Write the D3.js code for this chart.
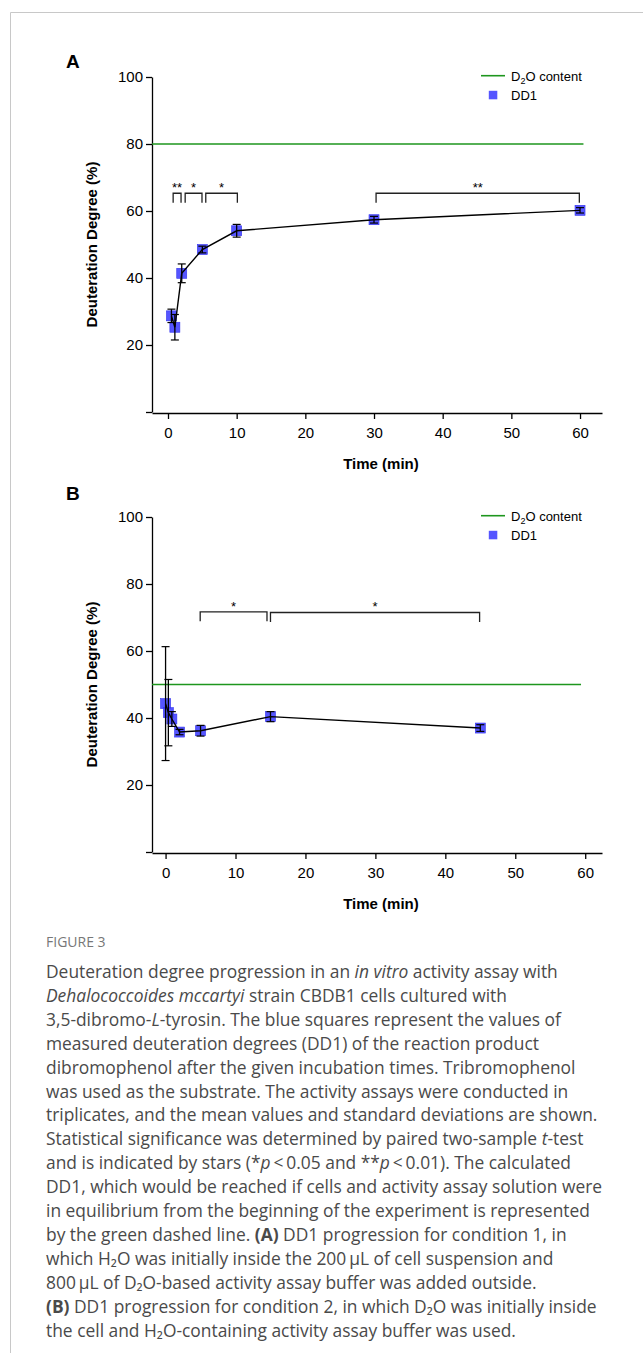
<!DOCTYPE html>
<html>
<head>
<meta charset="utf-8">
<script src="https://cdn.jsdelivr.net/npm/d3@7"></script>
<style>
  body { margin: 0; background: #fff; }
  .chart-text { font-family: "Liberation Sans", Arial, sans-serif; }
  .caption { font-family: "Open Sans", "Noto Sans", sans-serif; }
</style>
</head>
<body>
<div id="chart"></div>
<script>
// ---- panel A data (condition 1)
const timeA = [0.5, 1, 2, 5, 10, 30, 60];
const ddA   = [28.7, 25.3, 41.4, 48.5, 54.1, 57.4, 60.2];
const sdA   = [2.0, 3.8, 2.8, 1.0, 1.9, 1.0, 0.8];
const d2oA  = 80;
const sigFromA  = [0.75, 2.5, 5.5, 30.3];
const sigToA    = [1.9, 4.95, 10.1, 59.9];
const sigStarsA = ["**", "*", "*", "**"];
const sigLevelA = [65.3, 65.3, 65.3, 65.3];

// ---- panel B data (condition 2)
const timeB = [0, 0.4, 0.9, 2, 5, 15, 45];
const ddB   = [44.3, 41.6, 39.7, 35.8, 36.2, 40.4, 37.0];
const sdB   = [17.0, 9.9, 2.2, 0.8, 1.6, 1.5, 1.0];
const d2oB  = 50;
const sigFromB  = [4.95, 15];
const sigToB    = [14.5, 44.9];
const sigStarsB = ["*", "*"];
const sigLevelB = [71.7, 71.5];

// ---- axes
const xTicks = [0, 10, 20, 30, 40, 50, 60];
const yTicks = [0, 20, 40, 60, 80, 100];

const W = 643, H = 1353;
const svg = d3.select("#chart").append("svg")
  .attr("width", W).attr("height", H);

// page frame
svg.append("path")
  .attr("d", `M10.5,${H} L10.5,12.5 L${W},12.5`)
  .attr("fill", "none").attr("stroke", "#c8c8c8");

function drawPanel(p) {
  const off = p.off;
  const x = d3.scaleLinear().domain(p.xDomain).range([152, 602]);
  const y = d3.scaleLinear().domain([0, 100]).range([412 + off, 77 + off]);
  const g = svg.append("g").attr("class", "chart-text");

  // panel letter
  g.append("text")
    .attr("x", 66).attr("y", p.letterY)
    .attr("font-size", 19).attr("font-weight", "bold")
    .text(p.letter);

  // axes
  const yAxis = d3.axisLeft(y).tickValues(yTicks).tickSize(6).tickPadding(3)
    .tickSizeOuter(0).tickFormat(d => d === 0 ? "" : d);
  const xAxis = d3.axisBottom(x).tickValues(xTicks).tickSize(6).tickPadding(8)
    .tickSizeOuter(0);

  const ya = g.append("g").attr("transform", "translate(152,0)").call(yAxis);
  const xa = g.append("g").attr("transform", `translate(0,${y(0) + 1})`).call(xAxis);
  [ya, xa].forEach(a => {
    a.attr("font-family", null).attr("font-size", null);
    a.selectAll("path, line").attr("stroke", "#000").attr("stroke-width", 1.3);
    a.selectAll("text").style("font-size", "15px").attr("fill", "#000");
  });

  // axis titles
  g.append("text")
    .attr("transform", `translate(97,${(y(0) + y(100)) / 2}) rotate(-90)`)
    .attr("text-anchor", "middle")
    .attr("font-size", 15).attr("font-weight", "bold")
    .text("Deuteration Degree (%)");
  g.append("text")
    .attr("x", 381).attr("y", y(0) + 57)
    .attr("text-anchor", "middle")
    .attr("font-size", 15).attr("font-weight", "bold")
    .text("Time (min)");

  // D2O content line
  g.append("line")
    .attr("x1", x(p.xDomain[0])).attr("x2", x(p.lineEnd))
    .attr("y1", y(p.d2o)).attr("y2", y(p.d2o))
    .attr("stroke", "#1e961e").attr("stroke-width", 1.6);

  const pts = p.time.map((t, i) => ({ t: t, v: p.dd[i], sd: p.sd[i] }));

  // squares
  g.selectAll(".sq").data(pts).enter().append("rect")
    .attr("x", d => x(d.t) - 5).attr("y", d => y(d.v) - 5)
    .attr("width", 10).attr("height", 10)
    .attr("fill", "#3d3dff").attr("fill-opacity", 0.88)
    .attr("stroke", "#3333ee").attr("stroke-width", 0.6);

  // connecting line
  g.append("path").datum(pts)
    .attr("d", d3.line().x(d => x(d.t)).y(d => y(d.v)))
    .attr("fill", "none").attr("stroke", "#000").attr("stroke-width", 1.4);

  // error bars
  const eb = g.selectAll(".eb").data(pts).enter().append("g");
  eb.append("line")
    .attr("x1", d => x(d.t)).attr("x2", d => x(d.t))
    .attr("y1", d => y(d.v - d.sd)).attr("y2", d => y(d.v + d.sd))
    .attr("stroke", "#000").attr("stroke-width", 1.3);
  [-1, 1].forEach(s => {
    eb.append("line")
      .attr("x1", d => x(d.t) - 4).attr("x2", d => x(d.t) + 4)
      .attr("y1", d => y(d.v + s * d.sd)).attr("y2", d => y(d.v + s * d.sd))
      .attr("stroke", "#000").attr("stroke-width", 1.2);
  });

  // significance brackets
  p.sigFrom.forEach((a, i) => {
    const b = p.sigTo[i];
    const top = y(p.sigLevel[i]);
    const leg = 9.5;
    g.append("path")
      .attr("d", `M${x(a)},${top + leg} L${x(a)},${top} L${x(b)},${top} L${x(b)},${top + leg}`)
      .attr("fill", "none").attr("stroke", "#222").attr("stroke-width", 1.3);
    g.append("text")
      .attr("x", (x(a) + x(b)) / 2).attr("y", top - 1)
      .attr("text-anchor", "middle").attr("font-size", 13)
      .text(p.sigStars[i]);
  });

  // legend
  g.append("line")
    .attr("x1", 481).attr("x2", 505)
    .attr("y1", 75.7 + off).attr("y2", 75.7 + off)
    .attr("stroke", "#1e961e").attr("stroke-width", 1.6);
  const lt = g.append("text").attr("x", 511).attr("y", 80.7 + off).attr("font-size", 13);
  lt.append("tspan").text("D");
  lt.append("tspan").attr("font-size", 9).attr("dy", 3).text("2");
  lt.append("tspan").attr("dy", -3).text("O content");
  g.append("rect")
    .attr("x", 488.8).attr("y", 90.8 + off).attr("width", 8.5).attr("height", 8.5)
    .attr("fill", "#3d3dff").attr("fill-opacity", 0.88);
  g.append("text").attr("x", 511).attr("y", 99.5 + off).attr("font-size", 13).text("DD1");
}

drawPanel({
  letter: "A", letterY: 68, off: 0, xDomain: [-2.33, 63.2], lineEnd: 60.5,
  time: timeA, dd: ddA, sd: sdA, d2o: d2oA,
  sigFrom: sigFromA, sigTo: sigToA, sigStars: sigStarsA, sigLevel: sigLevelA
});
drawPanel({
  letter: "B", letterY: 500, off: 440, xDomain: [-1.94, 62.4], lineEnd: 59.4,
  time: timeB, dd: ddB, sd: sdB, d2o: d2oB,
  sigFrom: sigFromB, sigTo: sigToB, sigStars: sigStarsB, sigLevel: sigLevelB
});

// ---- caption
const captionLines = [
  [["Deuteration degree progression in an "], ["in vitro", "i"], [" activity assay with"]],
  [["Dehalococcoides mccartyi", "i"], [" strain CBDB1 cells cultured with"]],
  [["3,5-dibromo-"], ["L", "i"], ["-tyrosin. The blue squares represent the values of"]],
  [["measured deuteration degrees (DD1) of the reaction product"]],
  [["dibromophenol after the given incubation times. Tribromophenol"]],
  [["was used as the substrate. The activity assays were conducted in"]],
  [["triplicates, and the mean values and standard deviations are shown."]],
  [["Statistical significance was determined by paired two-sample "], ["t", "i"], ["-test"]],
  [["and is indicated by stars (*"], ["p", "i"], ["\u2009<\u20090.05 and **"], ["p", "i"], ["\u2009<\u20090.01). The calculated"]],
  [["DD1, which would be reached if cells and activity assay solution were"]],
  [["in equilibrium from the beginning of the experiment is represented"]],
  [["by the green dashed line. "], ["(A)", "b"], [" DD1 progression for condition 1, in"]],
  [["which H\u2082O was initially inside the 200\u2009\u00b5L of cell suspension and"]],
  [["800\u2009\u00b5L of D\u2082O-based activity assay buffer was added outside."]],
  [["(B)", "b"], [" DD1 progression for condition 2, in which D\u2082O was initially inside"]],
  [["the cell and H\u2082O-containing activity assay buffer was used."]]
];

const cap = svg.append("g").attr("class", "caption");

cap.append("text")
  .attr("x", 46).attr("y", 947)
  .style("font-size", "14px").attr("fill", "#777")
  .text("FIGURE 3");

captionLines.forEach((segs, i) => {
  const t = cap.append("text")
    .attr("x", 46).attr("y", 978 + i * 23.9)
    .style("font-size", "17.4px").attr("fill", "#4a4a4a");
  segs.forEach(s => {
    const sp = t.append("tspan").text(s[0]);
    if (s[1] === "i") sp.style("font-style", "italic");
    if (s[1] === "b") sp.style("font-weight", "bold");
  });
});
</script>
</body>
</html>
